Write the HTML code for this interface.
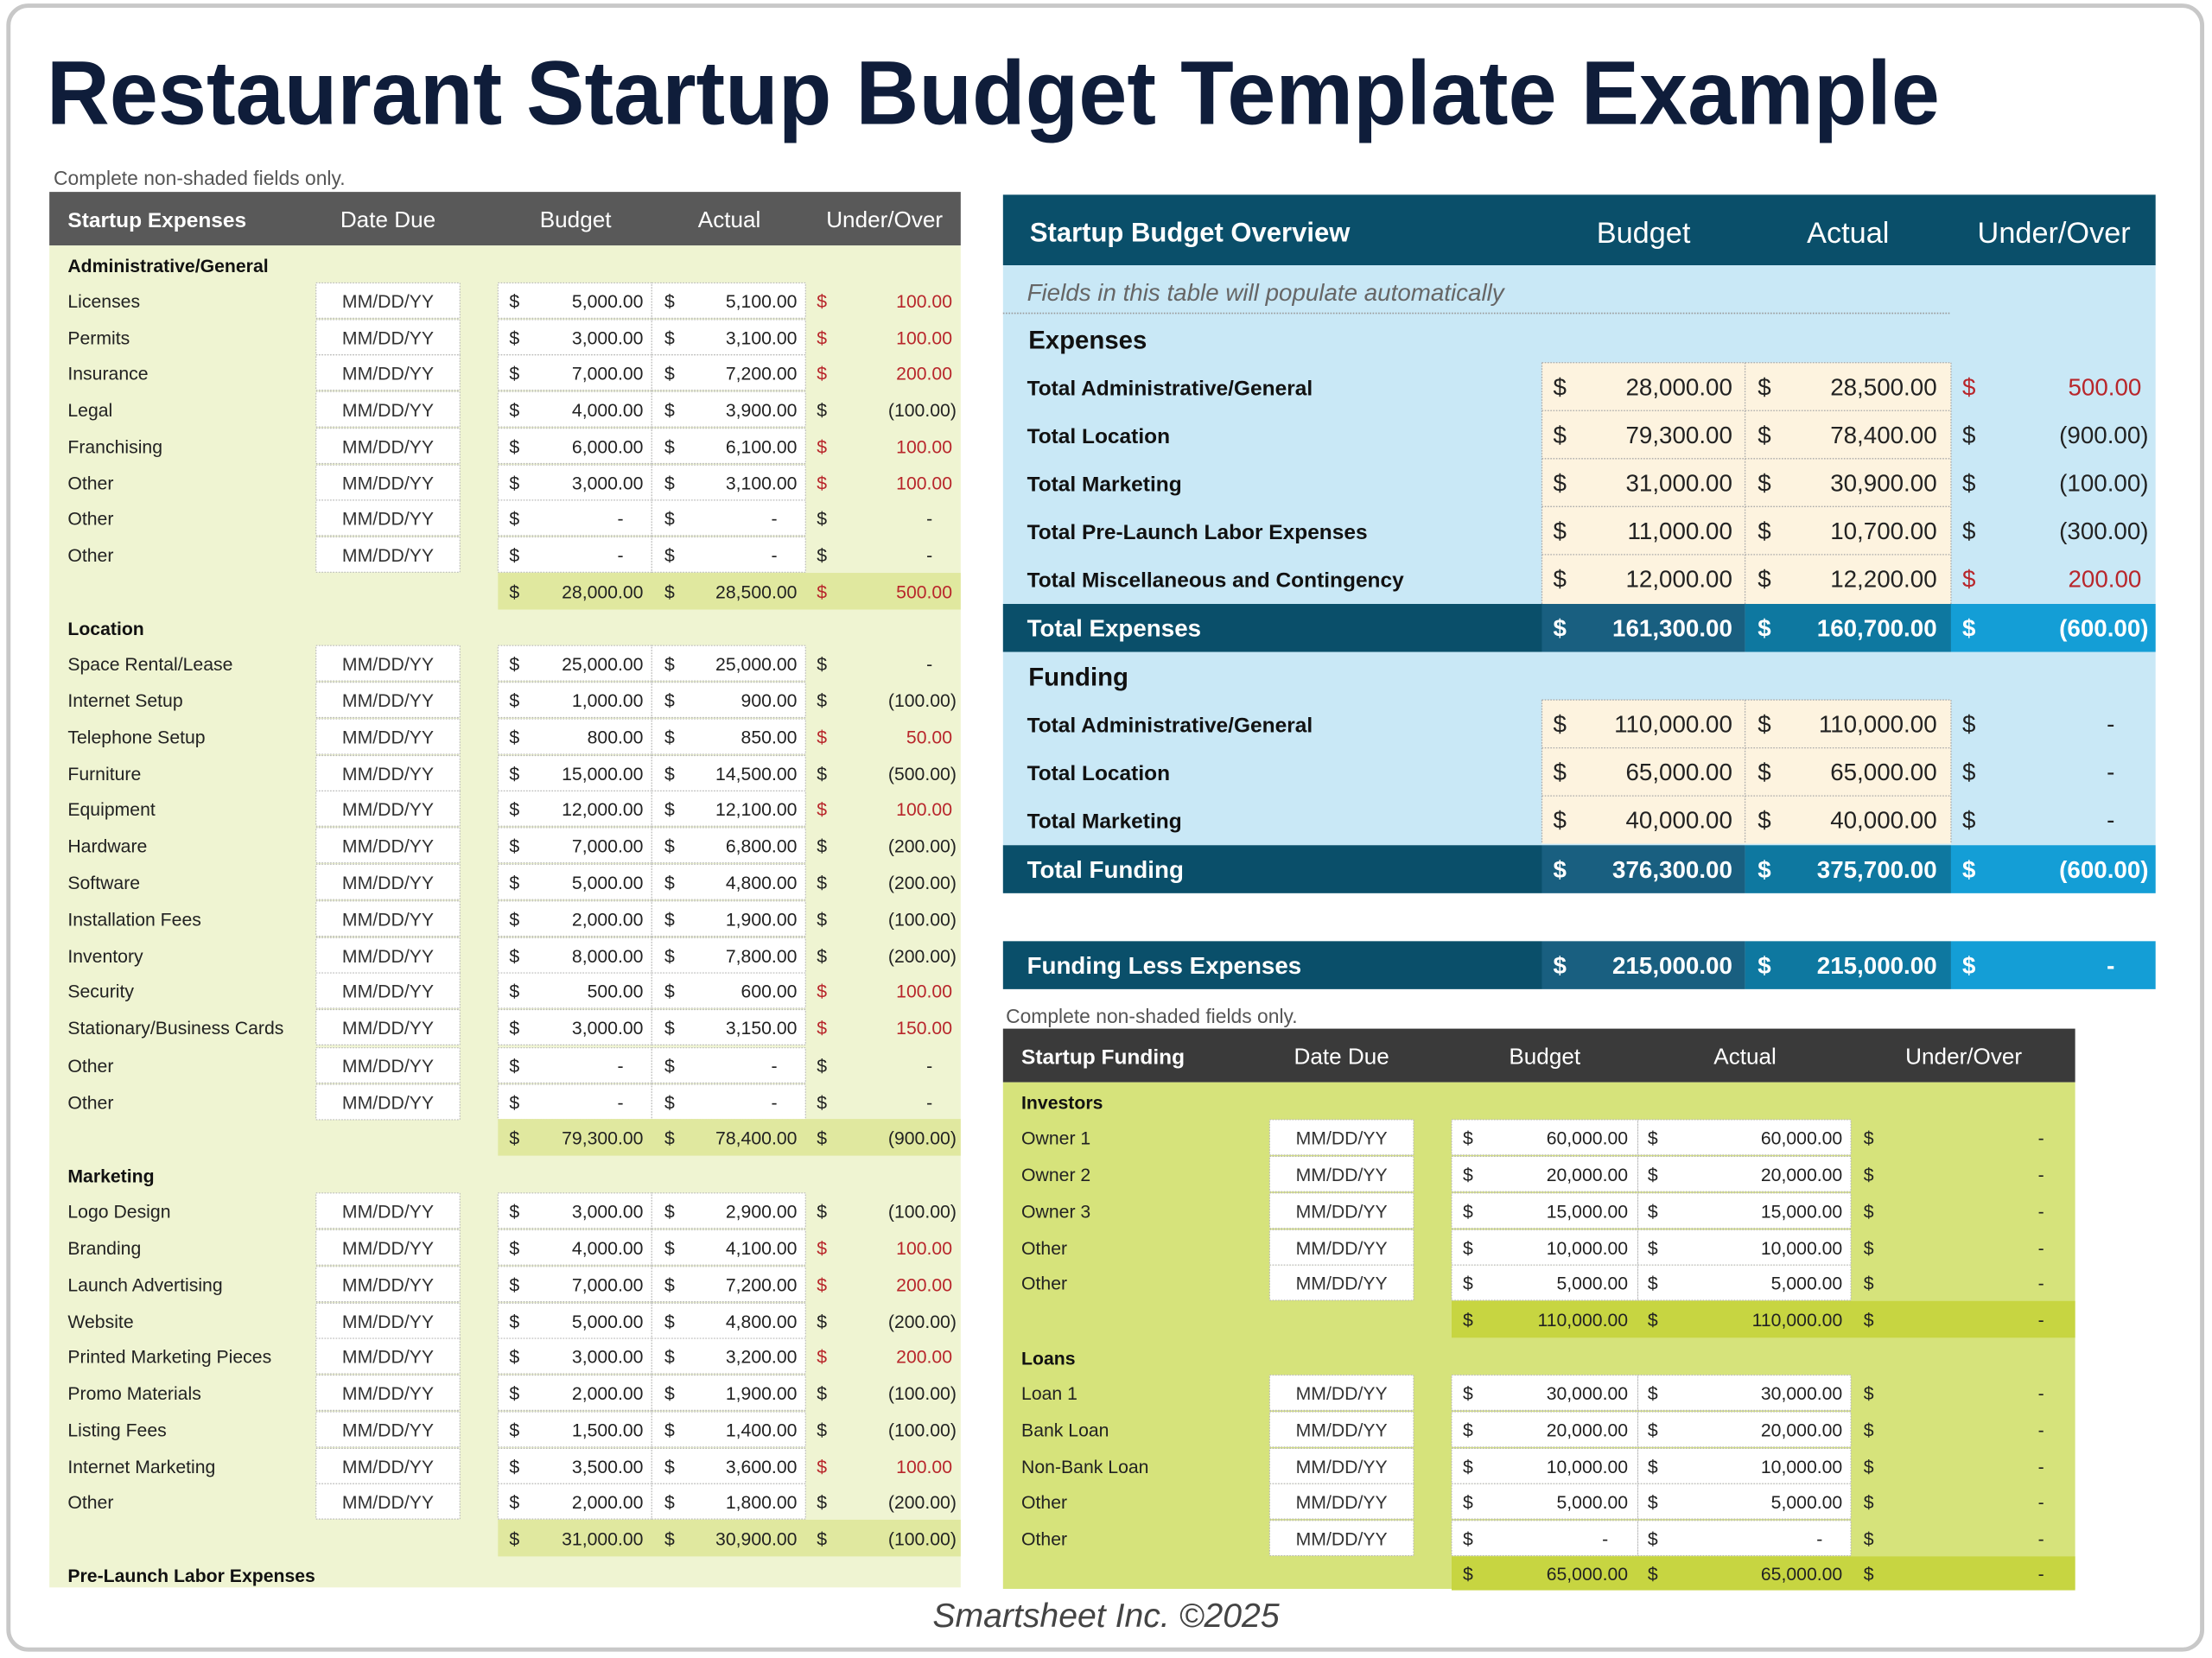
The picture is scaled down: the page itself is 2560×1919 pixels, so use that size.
<!DOCTYPE html>
<html><head><meta charset="utf-8"><style>
html,body{margin:0;padding:0;background:#fff;}
svg{display:block;}
text{font-family:"Liberation Sans",sans-serif;}
.l{font-size:13px;fill:#222;}
.h{font-size:13px;font-weight:bold;fill:#111;}
.d{font-size:13px;fill:#333;text-anchor:middle;}
.s{font-size:13px;fill:#222;}
.n{font-size:13px;fill:#222;text-anchor:end;}
.b{fill:#fff;stroke:#b8b8b8;stroke-width:.7;stroke-dasharray:1 1;}
.hw{font-size:16px;fill:#fff;}
.ol{font-size:15px;font-weight:bold;fill:#111;}
.os{font-size:17px;fill:#222;}
.on{font-size:17px;fill:#222;text-anchor:end;}
.tw{font-size:17px;font-weight:bold;fill:#fff;}
.twn{font-size:17px;font-weight:bold;fill:#fff;text-anchor:end;}
.r{fill:#b8262b !important;}
</style></head><body>
<svg width="2560" height="1919" viewBox="0 0 1568 1175" preserveAspectRatio="none" xmlns="http://www.w3.org/2000/svg">
<rect x="6" y="4" width="1555" height="1165" rx="14" fill="#fff" stroke="#c8c8c8" stroke-width="3"/>
<text x="33" y="88" font-size="64" font-weight="bold" fill="#0f1d3a" textLength="1342" lengthAdjust="spacingAndGlyphs">Restaurant Startup Budget Template Example</text>

<!-- LEFT TABLE -->
<text x="38" y="131" font-size="14" fill="#555">Complete non-shaded fields only.</text>
<rect x="35" y="136" width="646" height="38" fill="#595959"/>
<rect x="35" y="174" width="646" height="951" fill="#eff4d2"/>
<text x="48" y="161" font-size="15" font-weight="bold" fill="#fff">Startup Expenses</text>
<text x="275" y="161" class="hw" text-anchor="middle">Date Due</text>
<text x="408" y="161" class="hw" text-anchor="middle">Budget</text>
<text x="517" y="161" class="hw" text-anchor="middle">Actual</text>
<text x="627" y="161" class="hw" text-anchor="middle">Under/Over</text>

<text class="h" x="48" y="193">Administrative/General</text>
<g transform="translate(0,213)"><rect class="b" x="224" y="-12.5" width="102" height="25"/><rect class="b" x="353" y="-12.5" width="109" height="25"/><rect class="b" x="462" y="-12.5" width="109" height="25"/><text class="l" x="48" y="5">Licenses</text><text class="d" x="275" y="5">MM/DD/YY</text><text class="s" x="361" y="5">$</text><text class="n" x="456" y="5">5,000.00</text><text class="s" x="471" y="5">$</text><text class="n" x="565" y="5">5,100.00</text><text class="s r" x="579" y="5">$</text><text class="n r" x="675" y="5">100.00</text></g>
<g transform="translate(0,239)"><rect class="b" x="224" y="-12.5" width="102" height="25"/><rect class="b" x="353" y="-12.5" width="109" height="25"/><rect class="b" x="462" y="-12.5" width="109" height="25"/><text class="l" x="48" y="5">Permits</text><text class="d" x="275" y="5">MM/DD/YY</text><text class="s" x="361" y="5">$</text><text class="n" x="456" y="5">3,000.00</text><text class="s" x="471" y="5">$</text><text class="n" x="565" y="5">3,100.00</text><text class="s r" x="579" y="5">$</text><text class="n r" x="675" y="5">100.00</text></g>
<g transform="translate(0,264)"><rect class="b" x="224" y="-12.5" width="102" height="25"/><rect class="b" x="353" y="-12.5" width="109" height="25"/><rect class="b" x="462" y="-12.5" width="109" height="25"/><text class="l" x="48" y="5">Insurance</text><text class="d" x="275" y="5">MM/DD/YY</text><text class="s" x="361" y="5">$</text><text class="n" x="456" y="5">7,000.00</text><text class="s" x="471" y="5">$</text><text class="n" x="565" y="5">7,200.00</text><text class="s r" x="579" y="5">$</text><text class="n r" x="675" y="5">200.00</text></g>
<g transform="translate(0,290)"><rect class="b" x="224" y="-12.5" width="102" height="25"/><rect class="b" x="353" y="-12.5" width="109" height="25"/><rect class="b" x="462" y="-12.5" width="109" height="25"/><text class="l" x="48" y="5">Legal</text><text class="d" x="275" y="5">MM/DD/YY</text><text class="s" x="361" y="5">$</text><text class="n" x="456" y="5">4,000.00</text><text class="s" x="471" y="5">$</text><text class="n" x="565" y="5">3,900.00</text><text class="s" x="579" y="5">$</text><text class="n" x="678" y="5">(100.00)</text></g>
<g transform="translate(0,316)"><rect class="b" x="224" y="-12.5" width="102" height="25"/><rect class="b" x="353" y="-12.5" width="109" height="25"/><rect class="b" x="462" y="-12.5" width="109" height="25"/><text class="l" x="48" y="5">Franchising</text><text class="d" x="275" y="5">MM/DD/YY</text><text class="s" x="361" y="5">$</text><text class="n" x="456" y="5">6,000.00</text><text class="s" x="471" y="5">$</text><text class="n" x="565" y="5">6,100.00</text><text class="s r" x="579" y="5">$</text><text class="n r" x="675" y="5">100.00</text></g>
<g transform="translate(0,342)"><rect class="b" x="224" y="-12.5" width="102" height="25"/><rect class="b" x="353" y="-12.5" width="109" height="25"/><rect class="b" x="462" y="-12.5" width="109" height="25"/><text class="l" x="48" y="5">Other</text><text class="d" x="275" y="5">MM/DD/YY</text><text class="s" x="361" y="5">$</text><text class="n" x="456" y="5">3,000.00</text><text class="s" x="471" y="5">$</text><text class="n" x="565" y="5">3,100.00</text><text class="s r" x="579" y="5">$</text><text class="n r" x="675" y="5">100.00</text></g>
<g transform="translate(0,367)"><rect class="b" x="224" y="-12.5" width="102" height="25"/><rect class="b" x="353" y="-12.5" width="109" height="25"/><rect class="b" x="462" y="-12.5" width="109" height="25"/><text class="l" x="48" y="5">Other</text><text class="d" x="275" y="5">MM/DD/YY</text><text class="s" x="361" y="5">$</text><text class="n" x="442" y="5">-</text><text class="s" x="471" y="5">$</text><text class="n" x="551" y="5">-</text><text class="s" x="579" y="5">$</text><text class="n" x="661" y="5">-</text></g>
<g transform="translate(0,393)"><rect class="b" x="224" y="-12.5" width="102" height="25"/><rect class="b" x="353" y="-12.5" width="109" height="25"/><rect class="b" x="462" y="-12.5" width="109" height="25"/><text class="l" x="48" y="5">Other</text><text class="d" x="275" y="5">MM/DD/YY</text><text class="s" x="361" y="5">$</text><text class="n" x="442" y="5">-</text><text class="s" x="471" y="5">$</text><text class="n" x="551" y="5">-</text><text class="s" x="579" y="5">$</text><text class="n" x="661" y="5">-</text></g>
<g transform="translate(0,419)"><rect x="353" y="-13" width="328" height="26" fill="#e0e89f"/><text class="s" x="361" y="5">$</text><text class="n" x="456" y="5">28,000.00</text><text class="s" x="471" y="5">$</text><text class="n" x="565" y="5">28,500.00</text><text class="s r" x="579" y="5">$</text><text class="n r" x="675" y="5">500.00</text></g>

<text class="h" x="48" y="450">Location</text>
<g transform="translate(0,470)"><rect class="b" x="224" y="-12.5" width="102" height="25"/><rect class="b" x="353" y="-12.5" width="109" height="25"/><rect class="b" x="462" y="-12.5" width="109" height="25"/><text class="l" x="48" y="5">Space Rental/Lease</text><text class="d" x="275" y="5">MM/DD/YY</text><text class="s" x="361" y="5">$</text><text class="n" x="456" y="5">25,000.00</text><text class="s" x="471" y="5">$</text><text class="n" x="565" y="5">25,000.00</text><text class="s" x="579" y="5">$</text><text class="n" x="661" y="5">-</text></g>
<g transform="translate(0,496)"><rect class="b" x="224" y="-12.5" width="102" height="25"/><rect class="b" x="353" y="-12.5" width="109" height="25"/><rect class="b" x="462" y="-12.5" width="109" height="25"/><text class="l" x="48" y="5">Internet Setup</text><text class="d" x="275" y="5">MM/DD/YY</text><text class="s" x="361" y="5">$</text><text class="n" x="456" y="5">1,000.00</text><text class="s" x="471" y="5">$</text><text class="n" x="565" y="5">900.00</text><text class="s" x="579" y="5">$</text><text class="n" x="678" y="5">(100.00)</text></g>
<g transform="translate(0,522)"><rect class="b" x="224" y="-12.5" width="102" height="25"/><rect class="b" x="353" y="-12.5" width="109" height="25"/><rect class="b" x="462" y="-12.5" width="109" height="25"/><text class="l" x="48" y="5">Telephone Setup</text><text class="d" x="275" y="5">MM/DD/YY</text><text class="s" x="361" y="5">$</text><text class="n" x="456" y="5">800.00</text><text class="s" x="471" y="5">$</text><text class="n" x="565" y="5">850.00</text><text class="s r" x="579" y="5">$</text><text class="n r" x="675" y="5">50.00</text></g>
<g transform="translate(0,548)"><rect class="b" x="224" y="-12.5" width="102" height="25"/><rect class="b" x="353" y="-12.5" width="109" height="25"/><rect class="b" x="462" y="-12.5" width="109" height="25"/><text class="l" x="48" y="5">Furniture</text><text class="d" x="275" y="5">MM/DD/YY</text><text class="s" x="361" y="5">$</text><text class="n" x="456" y="5">15,000.00</text><text class="s" x="471" y="5">$</text><text class="n" x="565" y="5">14,500.00</text><text class="s" x="579" y="5">$</text><text class="n" x="678" y="5">(500.00)</text></g>
<g transform="translate(0,573)"><rect class="b" x="224" y="-12.5" width="102" height="25"/><rect class="b" x="353" y="-12.5" width="109" height="25"/><rect class="b" x="462" y="-12.5" width="109" height="25"/><text class="l" x="48" y="5">Equipment</text><text class="d" x="275" y="5">MM/DD/YY</text><text class="s" x="361" y="5">$</text><text class="n" x="456" y="5">12,000.00</text><text class="s" x="471" y="5">$</text><text class="n" x="565" y="5">12,100.00</text><text class="s r" x="579" y="5">$</text><text class="n r" x="675" y="5">100.00</text></g>
<g transform="translate(0,599)"><rect class="b" x="224" y="-12.5" width="102" height="25"/><rect class="b" x="353" y="-12.5" width="109" height="25"/><rect class="b" x="462" y="-12.5" width="109" height="25"/><text class="l" x="48" y="5">Hardware</text><text class="d" x="275" y="5">MM/DD/YY</text><text class="s" x="361" y="5">$</text><text class="n" x="456" y="5">7,000.00</text><text class="s" x="471" y="5">$</text><text class="n" x="565" y="5">6,800.00</text><text class="s" x="579" y="5">$</text><text class="n" x="678" y="5">(200.00)</text></g>
<g transform="translate(0,625)"><rect class="b" x="224" y="-12.5" width="102" height="25"/><rect class="b" x="353" y="-12.5" width="109" height="25"/><rect class="b" x="462" y="-12.5" width="109" height="25"/><text class="l" x="48" y="5">Software</text><text class="d" x="275" y="5">MM/DD/YY</text><text class="s" x="361" y="5">$</text><text class="n" x="456" y="5">5,000.00</text><text class="s" x="471" y="5">$</text><text class="n" x="565" y="5">4,800.00</text><text class="s" x="579" y="5">$</text><text class="n" x="678" y="5">(200.00)</text></g>
<g transform="translate(0,651)"><rect class="b" x="224" y="-12.5" width="102" height="25"/><rect class="b" x="353" y="-12.5" width="109" height="25"/><rect class="b" x="462" y="-12.5" width="109" height="25"/><text class="l" x="48" y="5">Installation Fees</text><text class="d" x="275" y="5">MM/DD/YY</text><text class="s" x="361" y="5">$</text><text class="n" x="456" y="5">2,000.00</text><text class="s" x="471" y="5">$</text><text class="n" x="565" y="5">1,900.00</text><text class="s" x="579" y="5">$</text><text class="n" x="678" y="5">(100.00)</text></g>
<g transform="translate(0,677)"><rect class="b" x="224" y="-12.5" width="102" height="25"/><rect class="b" x="353" y="-12.5" width="109" height="25"/><rect class="b" x="462" y="-12.5" width="109" height="25"/><text class="l" x="48" y="5">Inventory</text><text class="d" x="275" y="5">MM/DD/YY</text><text class="s" x="361" y="5">$</text><text class="n" x="456" y="5">8,000.00</text><text class="s" x="471" y="5">$</text><text class="n" x="565" y="5">7,800.00</text><text class="s" x="579" y="5">$</text><text class="n" x="678" y="5">(200.00)</text></g>
<g transform="translate(0,702)"><rect class="b" x="224" y="-12.5" width="102" height="25"/><rect class="b" x="353" y="-12.5" width="109" height="25"/><rect class="b" x="462" y="-12.5" width="109" height="25"/><text class="l" x="48" y="5">Security</text><text class="d" x="275" y="5">MM/DD/YY</text><text class="s" x="361" y="5">$</text><text class="n" x="456" y="5">500.00</text><text class="s" x="471" y="5">$</text><text class="n" x="565" y="5">600.00</text><text class="s r" x="579" y="5">$</text><text class="n r" x="675" y="5">100.00</text></g>
<g transform="translate(0,728)"><rect class="b" x="224" y="-12.5" width="102" height="25"/><rect class="b" x="353" y="-12.5" width="109" height="25"/><rect class="b" x="462" y="-12.5" width="109" height="25"/><text class="l" x="48" y="5">Stationary/Business Cards</text><text class="d" x="275" y="5">MM/DD/YY</text><text class="s" x="361" y="5">$</text><text class="n" x="456" y="5">3,000.00</text><text class="s" x="471" y="5">$</text><text class="n" x="565" y="5">3,150.00</text><text class="s r" x="579" y="5">$</text><text class="n r" x="675" y="5">150.00</text></g>
<g transform="translate(0,755)"><rect class="b" x="224" y="-12.5" width="102" height="25"/><rect class="b" x="353" y="-12.5" width="109" height="25"/><rect class="b" x="462" y="-12.5" width="109" height="25"/><text class="l" x="48" y="5">Other</text><text class="d" x="275" y="5">MM/DD/YY</text><text class="s" x="361" y="5">$</text><text class="n" x="442" y="5">-</text><text class="s" x="471" y="5">$</text><text class="n" x="551" y="5">-</text><text class="s" x="579" y="5">$</text><text class="n" x="661" y="5">-</text></g>
<g transform="translate(0,781)"><rect class="b" x="224" y="-12.5" width="102" height="25"/><rect class="b" x="353" y="-12.5" width="109" height="25"/><rect class="b" x="462" y="-12.5" width="109" height="25"/><text class="l" x="48" y="5">Other</text><text class="d" x="275" y="5">MM/DD/YY</text><text class="s" x="361" y="5">$</text><text class="n" x="442" y="5">-</text><text class="s" x="471" y="5">$</text><text class="n" x="551" y="5">-</text><text class="s" x="579" y="5">$</text><text class="n" x="661" y="5">-</text></g>
<g transform="translate(0,806)"><rect x="353" y="-13" width="328" height="26" fill="#e0e89f"/><text class="s" x="361" y="5">$</text><text class="n" x="456" y="5">79,300.00</text><text class="s" x="471" y="5">$</text><text class="n" x="565" y="5">78,400.00</text><text class="s" x="579" y="5">$</text><text class="n" x="678" y="5">(900.00)</text></g>

<text class="h" x="48" y="838">Marketing</text>
<g transform="translate(0,858)"><rect class="b" x="224" y="-12.5" width="102" height="25"/><rect class="b" x="353" y="-12.5" width="109" height="25"/><rect class="b" x="462" y="-12.5" width="109" height="25"/><text class="l" x="48" y="5">Logo Design</text><text class="d" x="275" y="5">MM/DD/YY</text><text class="s" x="361" y="5">$</text><text class="n" x="456" y="5">3,000.00</text><text class="s" x="471" y="5">$</text><text class="n" x="565" y="5">2,900.00</text><text class="s" x="579" y="5">$</text><text class="n" x="678" y="5">(100.00)</text></g>
<g transform="translate(0,884)"><rect class="b" x="224" y="-12.5" width="102" height="25"/><rect class="b" x="353" y="-12.5" width="109" height="25"/><rect class="b" x="462" y="-12.5" width="109" height="25"/><text class="l" x="48" y="5">Branding</text><text class="d" x="275" y="5">MM/DD/YY</text><text class="s" x="361" y="5">$</text><text class="n" x="456" y="5">4,000.00</text><text class="s" x="471" y="5">$</text><text class="n" x="565" y="5">4,100.00</text><text class="s r" x="579" y="5">$</text><text class="n r" x="675" y="5">100.00</text></g>
<g transform="translate(0,910)"><rect class="b" x="224" y="-12.5" width="102" height="25"/><rect class="b" x="353" y="-12.5" width="109" height="25"/><rect class="b" x="462" y="-12.5" width="109" height="25"/><text class="l" x="48" y="5">Launch Advertising</text><text class="d" x="275" y="5">MM/DD/YY</text><text class="s" x="361" y="5">$</text><text class="n" x="456" y="5">7,000.00</text><text class="s" x="471" y="5">$</text><text class="n" x="565" y="5">7,200.00</text><text class="s r" x="579" y="5">$</text><text class="n r" x="675" y="5">200.00</text></g>
<g transform="translate(0,936)"><rect class="b" x="224" y="-12.5" width="102" height="25"/><rect class="b" x="353" y="-12.5" width="109" height="25"/><rect class="b" x="462" y="-12.5" width="109" height="25"/><text class="l" x="48" y="5">Website</text><text class="d" x="275" y="5">MM/DD/YY</text><text class="s" x="361" y="5">$</text><text class="n" x="456" y="5">5,000.00</text><text class="s" x="471" y="5">$</text><text class="n" x="565" y="5">4,800.00</text><text class="s" x="579" y="5">$</text><text class="n" x="678" y="5">(200.00)</text></g>
<g transform="translate(0,961)"><rect class="b" x="224" y="-12.5" width="102" height="25"/><rect class="b" x="353" y="-12.5" width="109" height="25"/><rect class="b" x="462" y="-12.5" width="109" height="25"/><text class="l" x="48" y="5">Printed Marketing Pieces</text><text class="d" x="275" y="5">MM/DD/YY</text><text class="s" x="361" y="5">$</text><text class="n" x="456" y="5">3,000.00</text><text class="s" x="471" y="5">$</text><text class="n" x="565" y="5">3,200.00</text><text class="s r" x="579" y="5">$</text><text class="n r" x="675" y="5">200.00</text></g>
<g transform="translate(0,987)"><rect class="b" x="224" y="-12.5" width="102" height="25"/><rect class="b" x="353" y="-12.5" width="109" height="25"/><rect class="b" x="462" y="-12.5" width="109" height="25"/><text class="l" x="48" y="5">Promo Materials</text><text class="d" x="275" y="5">MM/DD/YY</text><text class="s" x="361" y="5">$</text><text class="n" x="456" y="5">2,000.00</text><text class="s" x="471" y="5">$</text><text class="n" x="565" y="5">1,900.00</text><text class="s" x="579" y="5">$</text><text class="n" x="678" y="5">(100.00)</text></g>
<g transform="translate(0,1013)"><rect class="b" x="224" y="-12.5" width="102" height="25"/><rect class="b" x="353" y="-12.5" width="109" height="25"/><rect class="b" x="462" y="-12.5" width="109" height="25"/><text class="l" x="48" y="5">Listing Fees</text><text class="d" x="275" y="5">MM/DD/YY</text><text class="s" x="361" y="5">$</text><text class="n" x="456" y="5">1,500.00</text><text class="s" x="471" y="5">$</text><text class="n" x="565" y="5">1,400.00</text><text class="s" x="579" y="5">$</text><text class="n" x="678" y="5">(100.00)</text></g>
<g transform="translate(0,1039)"><rect class="b" x="224" y="-12.5" width="102" height="25"/><rect class="b" x="353" y="-12.5" width="109" height="25"/><rect class="b" x="462" y="-12.5" width="109" height="25"/><text class="l" x="48" y="5">Internet Marketing</text><text class="d" x="275" y="5">MM/DD/YY</text><text class="s" x="361" y="5">$</text><text class="n" x="456" y="5">3,500.00</text><text class="s" x="471" y="5">$</text><text class="n" x="565" y="5">3,600.00</text><text class="s r" x="579" y="5">$</text><text class="n r" x="675" y="5">100.00</text></g>
<g transform="translate(0,1064)"><rect class="b" x="224" y="-12.5" width="102" height="25"/><rect class="b" x="353" y="-12.5" width="109" height="25"/><rect class="b" x="462" y="-12.5" width="109" height="25"/><text class="l" x="48" y="5">Other</text><text class="d" x="275" y="5">MM/DD/YY</text><text class="s" x="361" y="5">$</text><text class="n" x="456" y="5">2,000.00</text><text class="s" x="471" y="5">$</text><text class="n" x="565" y="5">1,800.00</text><text class="s" x="579" y="5">$</text><text class="n" x="678" y="5">(200.00)</text></g>
<g transform="translate(0,1090)"><rect x="353" y="-13" width="328" height="26" fill="#e0e89f"/><text class="s" x="361" y="5">$</text><text class="n" x="456" y="5">31,000.00</text><text class="s" x="471" y="5">$</text><text class="n" x="565" y="5">30,900.00</text><text class="s" x="579" y="5">$</text><text class="n" x="678" y="5">(100.00)</text></g>
<text class="h" x="48" y="1121">Pre-Launch Labor Expenses</text>

<!-- OVERVIEW -->
<rect x="711" y="138" width="817" height="50" fill="#0a4f6a"/>
<rect x="711" y="188" width="817" height="445" fill="#c9e8f6"/>
<text x="730" y="171" font-size="19" font-weight="bold" fill="#fff">Startup Budget Overview</text>
<text x="1165" y="172" font-size="21" fill="#fff" text-anchor="middle">Budget</text>
<text x="1310" y="172" font-size="21" fill="#fff" text-anchor="middle">Actual</text>
<text x="1456" y="172" font-size="21" fill="#fff" text-anchor="middle">Under/Over</text>
<text x="728" y="213" font-size="17" font-style="italic" fill="#666">Fields in this table will populate automatically</text>
<line x1="711" y1="222" x2="1383" y2="222" stroke="#999" stroke-width="1" stroke-dasharray="1 1"/>
<text x="729" y="247" font-size="18" font-weight="bold" fill="#111">Expenses</text>
<rect x="1093" y="257" width="290" height="171" fill="#fdf3df"/>
<g stroke="#aaa" stroke-width=".8" stroke-dasharray="1 1"><line x1="1093" y1="257" x2="1383" y2="257"/><line x1="1093" y1="291" x2="1383" y2="291"/><line x1="1093" y1="325" x2="1383" y2="325"/><line x1="1093" y1="359" x2="1383" y2="359"/><line x1="1093" y1="393" x2="1383" y2="393"/><line x1="1093" y1="257" x2="1093" y2="428"/><line x1="1237" y1="257" x2="1237" y2="428"/><line x1="1383" y1="257" x2="1383" y2="428"/></g>
<g transform="translate(0,274)"><text class="ol" x="728" y="6">Total Administrative/General</text><text class="os" x="1101" y="6">$</text><text class="on" x="1228" y="6">28,000.00</text><text class="os" x="1246" y="6">$</text><text class="on" x="1373" y="6">28,500.00</text><text class="os r" x="1391" y="6">$</text><text class="on r" x="1518" y="6">500.00</text></g>
<g transform="translate(0,308)"><text class="ol" x="728" y="6">Total Location</text><text class="os" x="1101" y="6">$</text><text class="on" x="1228" y="6">79,300.00</text><text class="os" x="1246" y="6">$</text><text class="on" x="1373" y="6">78,400.00</text><text class="os" x="1391" y="6">$</text><text class="on" x="1523" y="6">(900.00)</text></g>
<g transform="translate(0,342)"><text class="ol" x="728" y="6">Total Marketing</text><text class="os" x="1101" y="6">$</text><text class="on" x="1228" y="6">31,000.00</text><text class="os" x="1246" y="6">$</text><text class="on" x="1373" y="6">30,900.00</text><text class="os" x="1391" y="6">$</text><text class="on" x="1523" y="6">(100.00)</text></g>
<g transform="translate(0,376)"><text class="ol" x="728" y="6">Total Pre-Launch Labor Expenses</text><text class="os" x="1101" y="6">$</text><text class="on" x="1228" y="6">11,000.00</text><text class="os" x="1246" y="6">$</text><text class="on" x="1373" y="6">10,700.00</text><text class="os" x="1391" y="6">$</text><text class="on" x="1523" y="6">(300.00)</text></g>
<g transform="translate(0,410)"><text class="ol" x="728" y="6">Total Miscellaneous and Contingency</text><text class="os" x="1101" y="6">$</text><text class="on" x="1228" y="6">12,000.00</text><text class="os" x="1246" y="6">$</text><text class="on" x="1373" y="6">12,200.00</text><text class="os r" x="1391" y="6">$</text><text class="on r" x="1518" y="6">200.00</text></g>
<g transform="translate(0,445)"><rect x="711" y="-17" width="382" height="34" fill="#0a4f6a"/><rect x="1093" y="-17" width="144" height="34" fill="#195f80"/><rect x="1237" y="-17" width="146" height="34" fill="#0e78a0"/><rect x="1383" y="-17" width="145" height="34" fill="#149ed6"/><text class="tw" x="728" y="6">Total Expenses</text><text class="tw" x="1101" y="6">$</text><text class="twn" x="1228" y="6">161,300.00</text><text class="tw" x="1246" y="6">$</text><text class="twn" x="1373" y="6">160,700.00</text><text class="tw" x="1391" y="6">$</text><text class="twn" x="1523" y="6">(600.00)</text></g>
<text x="729" y="486" font-size="18" font-weight="bold" fill="#111">Funding</text>
<rect x="1093" y="496" width="290" height="102" fill="#fdf3df"/>
<g stroke="#aaa" stroke-width=".8" stroke-dasharray="1 1"><line x1="1093" y1="496" x2="1383" y2="496"/><line x1="1093" y1="530" x2="1383" y2="530"/><line x1="1093" y1="564" x2="1383" y2="564"/><line x1="1093" y1="496" x2="1093" y2="598"/><line x1="1237" y1="496" x2="1237" y2="598"/><line x1="1383" y1="496" x2="1383" y2="598"/></g>
<g transform="translate(0,513)"><text class="ol" x="728" y="6">Total Administrative/General</text><text class="os" x="1101" y="6">$</text><text class="on" x="1228" y="6">110,000.00</text><text class="os" x="1246" y="6">$</text><text class="on" x="1373" y="6">110,000.00</text><text class="os" x="1391" y="6">$</text><text class="on" x="1499" y="6">-</text></g>
<g transform="translate(0,547)"><text class="ol" x="728" y="6">Total Location</text><text class="os" x="1101" y="6">$</text><text class="on" x="1228" y="6">65,000.00</text><text class="os" x="1246" y="6">$</text><text class="on" x="1373" y="6">65,000.00</text><text class="os" x="1391" y="6">$</text><text class="on" x="1499" y="6">-</text></g>
<g transform="translate(0,581)"><text class="ol" x="728" y="6">Total Marketing</text><text class="os" x="1101" y="6">$</text><text class="on" x="1228" y="6">40,000.00</text><text class="os" x="1246" y="6">$</text><text class="on" x="1373" y="6">40,000.00</text><text class="os" x="1391" y="6">$</text><text class="on" x="1499" y="6">-</text></g>
<g transform="translate(0,616)"><rect x="711" y="-17" width="382" height="34" fill="#0a4f6a"/><rect x="1093" y="-17" width="144" height="34" fill="#195f80"/><rect x="1237" y="-17" width="146" height="34" fill="#0e78a0"/><rect x="1383" y="-17" width="145" height="34" fill="#149ed6"/><text class="tw" x="728" y="6">Total Funding</text><text class="tw" x="1101" y="6">$</text><text class="twn" x="1228" y="6">376,300.00</text><text class="tw" x="1246" y="6">$</text><text class="twn" x="1373" y="6">375,700.00</text><text class="tw" x="1391" y="6">$</text><text class="twn" x="1523" y="6">(600.00)</text></g>
<g transform="translate(0,684)"><rect x="711" y="-17" width="382" height="34" fill="#0a4f6a"/><rect x="1093" y="-17" width="144" height="34" fill="#195f80"/><rect x="1237" y="-17" width="146" height="34" fill="#0e78a0"/><rect x="1383" y="-17" width="145" height="34" fill="#149ed6"/><text class="tw" x="728" y="6">Funding Less Expenses</text><text class="tw" x="1101" y="6">$</text><text class="twn" x="1228" y="6">215,000.00</text><text class="tw" x="1246" y="6">$</text><text class="twn" x="1373" y="6">215,000.00</text><text class="tw" x="1391" y="6">$</text><text class="twn" x="1499" y="6">-</text></g>

<!-- STARTUP FUNDING -->
<text x="713" y="725" font-size="14" fill="#555">Complete non-shaded fields only.</text>
<rect x="711" y="729" width="760" height="38" fill="#3a3a3a"/>
<rect x="711" y="767" width="760" height="359" fill="#d6e37b"/>
<text x="724" y="754" font-size="15" font-weight="bold" fill="#fff">Startup Funding</text>
<text x="951" y="754" class="hw" text-anchor="middle">Date Due</text>
<text x="1095" y="754" class="hw" text-anchor="middle">Budget</text>
<text x="1237" y="754" class="hw" text-anchor="middle">Actual</text>
<text x="1392" y="754" class="hw" text-anchor="middle">Under/Over</text>
<text class="h" x="724" y="786">Investors</text>
<g transform="translate(0,806)"><rect class="b" x="900" y="-12.5" width="102" height="25"/><rect class="b" x="1029" y="-12.5" width="132" height="25"/><rect class="b" x="1161" y="-12.5" width="151" height="25"/><text class="l" x="724" y="5">Owner 1</text><text class="d" x="951" y="5">MM/DD/YY</text><text class="s" x="1037" y="5">$</text><text class="n" x="1154" y="5">60,000.00</text><text class="s" x="1168" y="5">$</text><text class="n" x="1306" y="5">60,000.00</text><text class="s" x="1321" y="5">$</text><text class="n" x="1449" y="5">-</text></g>
<g transform="translate(0,832)"><rect class="b" x="900" y="-12.5" width="102" height="25"/><rect class="b" x="1029" y="-12.5" width="132" height="25"/><rect class="b" x="1161" y="-12.5" width="151" height="25"/><text class="l" x="724" y="5">Owner 2</text><text class="d" x="951" y="5">MM/DD/YY</text><text class="s" x="1037" y="5">$</text><text class="n" x="1154" y="5">20,000.00</text><text class="s" x="1168" y="5">$</text><text class="n" x="1306" y="5">20,000.00</text><text class="s" x="1321" y="5">$</text><text class="n" x="1449" y="5">-</text></g>
<g transform="translate(0,858)"><rect class="b" x="900" y="-12.5" width="102" height="25"/><rect class="b" x="1029" y="-12.5" width="132" height="25"/><rect class="b" x="1161" y="-12.5" width="151" height="25"/><text class="l" x="724" y="5">Owner 3</text><text class="d" x="951" y="5">MM/DD/YY</text><text class="s" x="1037" y="5">$</text><text class="n" x="1154" y="5">15,000.00</text><text class="s" x="1168" y="5">$</text><text class="n" x="1306" y="5">15,000.00</text><text class="s" x="1321" y="5">$</text><text class="n" x="1449" y="5">-</text></g>
<g transform="translate(0,884)"><rect class="b" x="900" y="-12.5" width="102" height="25"/><rect class="b" x="1029" y="-12.5" width="132" height="25"/><rect class="b" x="1161" y="-12.5" width="151" height="25"/><text class="l" x="724" y="5">Other</text><text class="d" x="951" y="5">MM/DD/YY</text><text class="s" x="1037" y="5">$</text><text class="n" x="1154" y="5">10,000.00</text><text class="s" x="1168" y="5">$</text><text class="n" x="1306" y="5">10,000.00</text><text class="s" x="1321" y="5">$</text><text class="n" x="1449" y="5">-</text></g>
<g transform="translate(0,909)"><rect class="b" x="900" y="-12.5" width="102" height="25"/><rect class="b" x="1029" y="-12.5" width="132" height="25"/><rect class="b" x="1161" y="-12.5" width="151" height="25"/><text class="l" x="724" y="5">Other</text><text class="d" x="951" y="5">MM/DD/YY</text><text class="s" x="1037" y="5">$</text><text class="n" x="1154" y="5">5,000.00</text><text class="s" x="1168" y="5">$</text><text class="n" x="1306" y="5">5,000.00</text><text class="s" x="1321" y="5">$</text><text class="n" x="1449" y="5">-</text></g>
<g transform="translate(0,935)"><rect x="1029" y="-13" width="442" height="26" fill="#c7d541"/><text class="s" x="1037" y="5">$</text><text class="n" x="1154" y="5">110,000.00</text><text class="s" x="1168" y="5">$</text><text class="n" x="1306" y="5">110,000.00</text><text class="s" x="1321" y="5">$</text><text class="n" x="1449" y="5">-</text></g>
<text class="h" x="724" y="967">Loans</text>
<g transform="translate(0,987)"><rect class="b" x="900" y="-12.5" width="102" height="25"/><rect class="b" x="1029" y="-12.5" width="132" height="25"/><rect class="b" x="1161" y="-12.5" width="151" height="25"/><text class="l" x="724" y="5">Loan 1</text><text class="d" x="951" y="5">MM/DD/YY</text><text class="s" x="1037" y="5">$</text><text class="n" x="1154" y="5">30,000.00</text><text class="s" x="1168" y="5">$</text><text class="n" x="1306" y="5">30,000.00</text><text class="s" x="1321" y="5">$</text><text class="n" x="1449" y="5">-</text></g>
<g transform="translate(0,1013)"><rect class="b" x="900" y="-12.5" width="102" height="25"/><rect class="b" x="1029" y="-12.5" width="132" height="25"/><rect class="b" x="1161" y="-12.5" width="151" height="25"/><text class="l" x="724" y="5">Bank Loan</text><text class="d" x="951" y="5">MM/DD/YY</text><text class="s" x="1037" y="5">$</text><text class="n" x="1154" y="5">20,000.00</text><text class="s" x="1168" y="5">$</text><text class="n" x="1306" y="5">20,000.00</text><text class="s" x="1321" y="5">$</text><text class="n" x="1449" y="5">-</text></g>
<g transform="translate(0,1039)"><rect class="b" x="900" y="-12.5" width="102" height="25"/><rect class="b" x="1029" y="-12.5" width="132" height="25"/><rect class="b" x="1161" y="-12.5" width="151" height="25"/><text class="l" x="724" y="5">Non-Bank Loan</text><text class="d" x="951" y="5">MM/DD/YY</text><text class="s" x="1037" y="5">$</text><text class="n" x="1154" y="5">10,000.00</text><text class="s" x="1168" y="5">$</text><text class="n" x="1306" y="5">10,000.00</text><text class="s" x="1321" y="5">$</text><text class="n" x="1449" y="5">-</text></g>
<g transform="translate(0,1064)"><rect class="b" x="900" y="-12.5" width="102" height="25"/><rect class="b" x="1029" y="-12.5" width="132" height="25"/><rect class="b" x="1161" y="-12.5" width="151" height="25"/><text class="l" x="724" y="5">Other</text><text class="d" x="951" y="5">MM/DD/YY</text><text class="s" x="1037" y="5">$</text><text class="n" x="1154" y="5">5,000.00</text><text class="s" x="1168" y="5">$</text><text class="n" x="1306" y="5">5,000.00</text><text class="s" x="1321" y="5">$</text><text class="n" x="1449" y="5">-</text></g>
<g transform="translate(0,1090)"><rect class="b" x="900" y="-12.5" width="102" height="25"/><rect class="b" x="1029" y="-12.5" width="132" height="25"/><rect class="b" x="1161" y="-12.5" width="151" height="25"/><text class="l" x="724" y="5">Other</text><text class="d" x="951" y="5">MM/DD/YY</text><text class="s" x="1037" y="5">$</text><text class="n" x="1140" y="5">-</text><text class="s" x="1168" y="5">$</text><text class="n" x="1292" y="5">-</text><text class="s" x="1321" y="5">$</text><text class="n" x="1449" y="5">-</text></g>
<g transform="translate(0,1115)"><rect x="1029" y="-12" width="442" height="24" fill="#c7d541"/><text class="s" x="1037" y="5">$</text><text class="n" x="1154" y="5">65,000.00</text><text class="s" x="1168" y="5">$</text><text class="n" x="1306" y="5">65,000.00</text><text class="s" x="1321" y="5">$</text><text class="n" x="1449" y="5">-</text></g>

<text x="784" y="1153" font-size="24" font-style="italic" fill="#444" text-anchor="middle">Smartsheet Inc. ©2025</text>
</svg>
</body></html>
